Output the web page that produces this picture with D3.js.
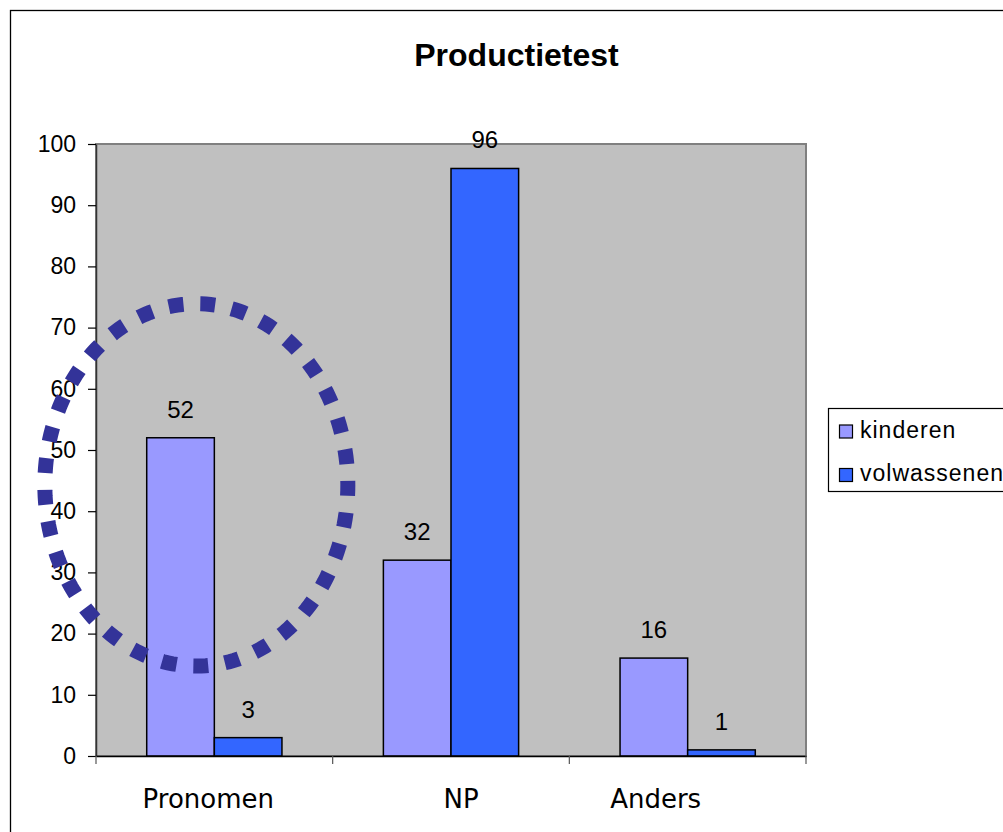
<!DOCTYPE html>
<html>
<head>
<meta charset="utf-8">
<script src="https://cdn.jsdelivr.net/npm/d3@7"></script>
<style>
  html, body { margin: 0; padding: 0; background: #fff; }
  svg { display: block; }
</style>
</head>
<body>
<svg id="chart" width="1003" height="832"></svg>
<script>
// ---- data ----
const title = "Productietest";
const categories = ["Pronomen", "NP", "Anders"];
const seriesNames = ["kinderen", "volwassenen"];
const kinderen = [52, 32, 16];
const volwassenen = [3, 96, 1];
const yTicks = [0, 10, 20, 30, 40, 50, 60, 70, 80, 90, 100];
// annotation ellipse (data units): centred left of the Pronomen group
const highlightCategory = "Pronomen";
const highlightCenterValue = 44.3;
const highlightValueRadius = 29.6;

// ---- layout ----
const svg = d3.select("#chart");
const plot = { left: 96, top: 144, right: 806, bottom: 756 };
const colors = { kinderen: "#9999FF", volwassenen: "#3366FF" };
// small horizontal nudges of the category labels, as in the original layout
const labelNudge = { Pronomen: -6, NP: 10, Anders: -32 };

// outer chart frame (extends past right edge)
svg.append("rect")
  .attr("x", 10.5).attr("y", 10.5).attr("width", 1010).attr("height", 840)
  .attr("fill", "#fff").attr("stroke", "#000").attr("stroke-width", 1.3);

const x = d3.scaleBand().domain(categories).range([plot.left, plot.right]).padding(0);
const bw = x.bandwidth();
const barW = bw / 3.5;
const xs = d3.scaleBand().domain(seriesNames).range([bw / 2 - barW, bw / 2 + barW]).padding(0);
const y = d3.scaleLinear().domain([0, 100]).range([plot.bottom, plot.top]);

// plot area
svg.append("rect")
  .attr("x", plot.left).attr("y", plot.top)
  .attr("width", plot.right - plot.left).attr("height", plot.bottom - plot.top)
  .attr("fill", "#C0C0C0").attr("stroke", "#808080").attr("stroke-width", 2);

// title
svg.append("text")
  .attr("x", 516.5).attr("y", 66)
  .attr("text-anchor", "middle")
  .attr("font-family", "'Liberation Sans', Arial, sans-serif")
  .attr("font-weight", "bold").attr("font-size", 32)
  .text(title);

// bars
const data = categories.map((c, i) => ({ cat: c, values: [
  { s: "kinderen", v: kinderen[i] },
  { s: "volwassenen", v: volwassenen[i] }
]}));

const groups = svg.selectAll("g.cat").data(data).join("g")
  .attr("class", "cat")
  .attr("transform", d => `translate(${x(d.cat)},0)`);

groups.selectAll("rect").data(d => d.values).join("rect")
  .attr("x", d => xs(d.s))
  .attr("y", d => y(d.v))
  .attr("width", xs.bandwidth())
  .attr("height", d => y(0) - y(d.v))
  .attr("fill", d => colors[d.s])
  .attr("stroke", "#000").attr("stroke-width", 1.5);

groups.selectAll("text").data(d => d.values).join("text")
  .attr("x", d => xs(d.s) + xs.bandwidth() / 2)
  .attr("y", d => y(d.v) - 20)
  .attr("text-anchor", "middle")
  .attr("font-family", "'Liberation Sans', Arial, sans-serif")
  .attr("font-size", 24)
  .attr("fill", "#000")
  .text(d => d.v);

// y axis
const yAxis = svg.append("g")
  .attr("transform", `translate(${plot.left},0)`)
  .call(d3.axisLeft(y).tickValues(yTicks).tickSize(8).tickPadding(12).tickSizeOuter(0));
yAxis.select(".domain").attr("stroke", "#333").attr("stroke-width", 1.5);
yAxis.selectAll(".tick line").attr("stroke", "#000").attr("stroke-width", 1.2);
yAxis.selectAll(".tick text")
  .attr("font-family", "'Liberation Sans', Arial, sans-serif")
  .attr("font-size", 23).attr("fill", "#000");

// x axis
const xAxis = svg.append("g")
  .attr("transform", `translate(0,${plot.bottom})`)
  .call(d3.axisBottom(x).tickSize(0).tickSizeOuter(0));
xAxis.select(".domain").attr("stroke", "#000").attr("stroke-width", 1.5);
xAxis.selectAll(".tick text")
  .attr("x", d => labelNudge[d] || 0)
  .attr("y", 51.5).attr("dy", 0)
  .attr("font-family", "'DejaVu Sans', Verdana, sans-serif")
  .attr("font-size", 26).attr("fill", "#000");
const boundaries = categories.map(c => x(c)).concat([x(categories[categories.length - 1]) + bw]);
xAxis.selectAll("line.bt").data(boundaries).join("line")
  .attr("class", "bt")
  .attr("x1", d => d).attr("x2", d => d)
  .attr("y1", 0).attr("y2", 8)
  .attr("stroke", "#555").attr("stroke-width", 1.2);

// legend
const legend = svg.append("g");
legend.append("rect")
  .attr("x", 828.5).attr("y", 408.5).attr("width", 200).attr("height", 83)
  .attr("fill", "#fff").attr("stroke", "#000").attr("stroke-width", 1.2);
const legendRows = [425, 468.5];
seriesNames.forEach((s, i) => {
  legend.append("rect")
    .attr("x", 839.5).attr("y", legendRows[i]).attr("width", 13).attr("height", 13)
    .attr("fill", colors[s]).attr("stroke", "#000").attr("stroke-width", 1.2);
  legend.append("text")
    .attr("x", 860).attr("y", legendRows[i] + 12.5)
    .attr("font-family", "'Liberation Sans', Arial, sans-serif")
    .attr("font-size", 23).attr("letter-spacing", 1)
    .attr("fill", "#000")
    .text(s);
});

// dotted highlight ellipse (drawn on top)
const cx = x(highlightCategory) + bw / 2 - 18;
const cy = y(highlightCenterValue);
const rx = 151.5;
const ry = y(0) - y(highlightValueRadius);
const ell = d3.path();
// start at top, go clockwise
const steps = 200;
for (let k = 0; k <= steps; k++) {
  const t = -Math.PI / 2 + (2 * Math.PI * k) / steps;
  const px = cx + rx * Math.cos(t), py = cy + ry * Math.sin(t);
  if (k === 0) ell.moveTo(px, py); else ell.lineTo(px, py);
}
svg.append("path")
  .attr("d", ell.toString())
  .attr("fill", "none")
  .attr("stroke", "#333399")
  .attr("stroke-width", 15)
  .attr("pathLength", 33 * 32)
  .attr("stroke-dasharray", "15 17")
  .attr("stroke-dashoffset", -4);
</script>
</body>
</html>
